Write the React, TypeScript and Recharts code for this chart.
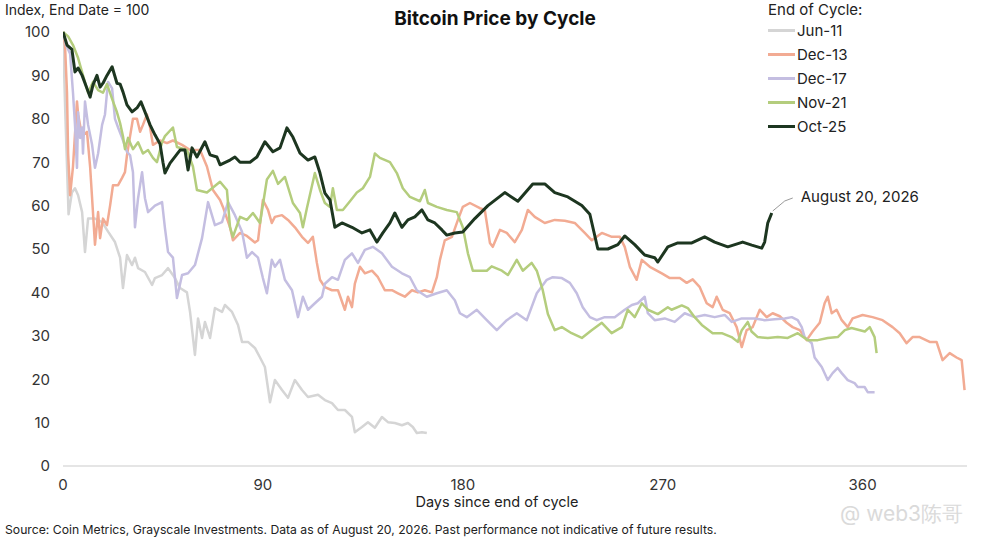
import { LineChart, Line, XAxis, YAxis, Legend, ReferenceDot } from 'recharts'

type Pt = [number, number]

// [days since end of cycle, index value]
const jun11: Pt[] = [
    [0, 100], [1, 82], [2.5, 58], [4, 63], [5.4, 64], [6.8, 62.4], [8.6, 58.5], [9.9, 49.3], [11.3, 57],
    [14.4, 57], [17.6, 56.2], [20.3, 54], [23.4, 51.6], [25.7, 48], [27, 41], [28.8, 48.6], [31.1, 46.3],
    [32.4, 48], [33.8, 45.6], [36.9, 44.7], [40.1, 41.7], [41.4, 43.3], [44.6, 44], [47.3, 45.6], [50.4, 43.3],
    [52.7, 41], [55.8, 40], [57.2, 35.5], [59.4, 25.6], [60.8, 34], [62.6, 29.5], [63.9, 33.2], [66.2, 29.5],
    [68.4, 36.4], [71.6, 35.5], [72.9, 37.1], [76.1, 35.5], [78.8, 32.5], [80.6, 28.6], [83.3, 28.6], [86.4, 27.2],
    [88.7, 25], [90.9, 22.8], [93.2, 14.7], [95.4, 19.8], [98.6, 17.5], [101.3, 15.7], [104.4, 19.8], [107.6, 17.5],
    [110.3, 15.9], [114.8, 16.4], [117.9, 15.2], [121.1, 14.5], [123.8, 12.9], [126.9, 12.9], [130.1, 11.3],
    [131.4, 7.8], [134.6, 9], [137.3, 10.1], [140.4, 8.8], [143.6, 11.3], [146.3, 10.1], [149.4, 9.9],
    [152.6, 9.4], [155.3, 9.9], [157.5, 9], [159.3, 7.6], [161.6, 7.8], [163.8, 7.6],
]

const dec13: Pt[] = [
    [0, 100], [0.9, 97], [1.8, 86], [2.3, 72], [3.2, 62.4], [4.5, 69], [6.3, 84], [6.8, 81], [8.6, 76],
    [10.8, 77], [12.2, 69], [13.1, 61.7], [14.4, 51], [15.8, 58.5], [16.7, 52.5], [18, 57], [19.8, 55.5],
    [21.2, 60], [22.5, 64.7], [24.8, 64.7], [26.6, 66.4], [27.9, 67.7], [28.8, 71.6], [30.2, 76], [31.5, 80],
    [33.3, 80], [34.7, 77], [36, 78.6], [37.8, 81], [39.2, 78], [40.5, 74], [43.7, 75], [46.8, 74.4],
    [49.5, 75], [53.6, 74], [57.2, 72.8], [61.7, 72.8], [64.8, 69], [67.5, 63.6], [70.7, 61.3], [72, 59.7],
    [75.2, 55], [76.5, 52], [79.7, 53.7], [82.8, 53], [86.4, 51.5], [87.8, 52], [90, 61.3], [92.3, 59],
    [94, 56], [95.4, 57.4], [98.6, 57.8], [101.3, 56.7], [104.4, 55], [107.6, 52.8], [110.3, 51.4],
    [112.5, 52.8], [114.3, 46.8], [115.7, 42.9], [117.9, 41.2], [121.1, 40.5], [123.8, 40.5], [126.9, 36],
    [128.3, 39], [130.1, 36.6], [131.4, 42], [133.7, 45.9], [135.9, 44.4], [139.1, 45], [141.8, 43.5],
    [144.9, 40.5], [148.1, 40.5], [150.8, 39.8], [153.9, 39], [157.1, 40.5], [159.8, 40], [162.9, 40.5],
    [166.1, 40], [168.3, 43.5], [169.7, 47.5], [171.9, 52], [175.1, 52.8], [177.8, 56.7], [180, 59.7],
    [183.2, 60.6], [187.7, 59.4], [189.9, 59], [192.2, 51.4], [193.5, 50.5], [196.7, 54.4], [199.8, 53.7],
    [203.4, 51.6], [206.6, 54.4], [209.3, 59], [212.4, 57.4], [216.9, 56], [221.4, 56.7], [225.9, 56.5],
    [230.4, 56], [234.9, 53.7], [238.1, 52], [242.6, 53.7], [247.1, 52.8], [250.7, 52.8], [252.9, 50.5],
    [255.2, 45.9], [258.3, 42.9], [260.6, 47.5], [264.2, 45.9], [269.6, 44.4], [273.2, 43.3], [277.7, 43.3],
    [280.8, 42.2], [283.5, 43], [286.7, 41.2], [289.8, 37.5], [292.5, 36.6], [294.3, 39], [297, 36],
    [300.2, 35.2], [303.3, 32], [305.6, 27.4], [307.8, 31.3], [310.5, 32], [313.7, 36], [316.8, 34.3],
    [319.5, 35.2], [322.7, 34.5], [325.8, 33], [328.5, 32], [331.7, 31.3], [334.8, 29], [337.5, 31],
    [340.7, 33], [342.9, 37.5], [344.3, 39], [346.1, 35.2], [348.3, 36], [350.6, 33.6], [353.3, 32],
    [355.5, 34], [360, 34.8], [364.5, 34.3], [369, 33.6], [373.5, 32], [376.7, 30.6], [379.8, 28.3],
    [382.5, 29.7], [385.7, 29.7], [390.2, 28.6], [393.3, 28.6], [396, 24.4], [399.2, 26], [402.3, 25],
    [404.6, 24.4], [405.9, 17.5],
]

const dec17: Pt[] = [
    [0, 100], [1.4, 97], [3.2, 95], [4.5, 86], [5.4, 78.6], [6.3, 68.7], [6.8, 81.5], [7.7, 75.6], [8.6, 78],
    [9, 72], [9.9, 84], [11.3, 78.6], [13.1, 74], [14.4, 68.7], [15.8, 72], [17.6, 78.6], [18.9, 81],
    [19.8, 86], [20.3, 88.5], [22.1, 87], [23.4, 80], [24.8, 78], [26.6, 75.6], [28.8, 72.4], [30.2, 71.6],
    [31.5, 67.7], [32.4, 55], [33.8, 61.7], [35.6, 67.7], [36.9, 61.7], [38.3, 58.5], [41.4, 60], [44.6, 60.8],
    [45.9, 54.8], [47.3, 49.3], [49.5, 48], [51.3, 38.7], [53.6, 44], [56.3, 44.4], [59.4, 46.3], [62.6, 52.5],
    [65.3, 60.8], [68.4, 55.5], [71.6, 56.2], [74.3, 60.8], [77.4, 57.8], [80.6, 54], [82.8, 48], [85.1, 49.3],
    [87.8, 48], [90, 43.3], [91.8, 39.8], [94, 47.5], [95.4, 45.9], [97.7, 47.5], [99.9, 42.9], [103.1, 40.5],
    [105.8, 34.3], [108, 39], [110.3, 36], [113.4, 37.5], [116.6, 39], [117.9, 42], [121.1, 43.5], [123.8, 42.9],
    [126.9, 47.5], [130.1, 49], [132.8, 46.8], [135.9, 49.8], [139.5, 50.5], [143.6, 49], [148.1, 45.9],
    [152.6, 44.4], [156.2, 43.5], [159.3, 40.5], [163.8, 39], [168.3, 39.8], [172.8, 40.5], [176.4, 38.2],
    [178.7, 35.2], [181.8, 34.3], [186.3, 36], [190.8, 33.6], [195.3, 31.3], [199.8, 33.6], [204.3, 35.2],
    [208.8, 33.6], [213.3, 39.8], [217.8, 42.9], [220.5, 43.5], [224.6, 43.3], [228.2, 42.2], [231.3, 39.8],
    [234, 36.6], [237.2, 34.3], [240.3, 33.6], [243.9, 34.3], [248.4, 34.3], [252.9, 36], [256.1, 37.1],
    [258.8, 37.5], [261.9, 39], [263.3, 35.2], [266.4, 33.6], [270.9, 34], [275.4, 33.2], [279.9, 35.2],
    [284.4, 34.3], [288.9, 34.8], [293.4, 34.3], [297.9, 34.8], [301.1, 33.2], [305.6, 34], [311.4, 34],
    [315.9, 33.6], [320.4, 33.8], [324.9, 34], [328.1, 34.3], [330.8, 33.6], [332.6, 32], [333.9, 29.7],
    [337.1, 28.3], [338.4, 25], [341.6, 22.8], [344.3, 19.8], [346.5, 21.4], [348.8, 22.6], [350.6, 21.4],
    [353.3, 19.8], [356.4, 19.1], [357.8, 18.2], [360.9, 18.2], [362.3, 17], [365.4, 17],
]

const nov21: Pt[] = [
    [0, 100], [2.3, 99], [4.5, 97], [6.8, 94], [9, 90], [11.3, 86], [13.5, 88.5], [15.8, 86.6], [18, 86],
    [19.8, 88], [22.5, 84], [24.3, 81.5], [25.7, 79], [27, 76], [27.9, 73], [29.3, 75.6], [31.5, 73],
    [33.8, 74.6], [36, 72], [38.3, 72.8], [40.5, 71], [42.3, 70], [44.6, 74.6], [45.9, 76], [49.5, 78],
    [51.3, 73.5], [55.8, 72.8], [58.5, 69], [60.3, 63.6], [64.8, 63], [70.7, 65.5], [73.8, 63.6], [75.2, 55],
    [76.5, 52.8], [79.7, 57.4], [82.8, 56.7], [85.5, 58.3], [88.7, 56], [91.8, 66], [94.5, 68], [96.8, 65],
    [99.9, 66.6], [103.5, 60.6], [106.7, 58.3], [108, 55], [109.8, 59.4], [113.4, 67.5], [115.7, 63.6],
    [117.9, 60.6], [120.2, 59.7], [121.5, 64], [123.3, 59], [126, 59], [129.2, 61], [132.3, 63], [135, 64],
    [138.2, 66.6], [140.4, 72], [142.7, 71], [147.2, 70], [150.3, 67.5], [153, 64], [156.2, 62], [160.7, 61],
    [162.9, 63.6], [164.3, 60.6], [168.3, 59.7], [172.8, 59], [177.3, 58.5], [180, 55], [182.3, 49],
    [184.5, 45], [190.8, 45], [193, 46], [197.6, 45], [200.3, 44], [204.3, 47.5], [207, 45], [211, 46.8],
    [213.3, 45], [216, 40.5], [218.3, 35], [221.4, 31.3], [224.6, 32], [229, 30.6], [233.6, 29.5], [238, 31.3],
    [242.6, 33], [247, 30.6], [251.6, 32], [254.3, 36], [257.4, 34.3], [260.6, 37.5], [263.3, 36], [267.8, 35],
    [272.3, 36.6], [274, 36], [278.6, 37], [281.3, 36.4], [284.4, 34.3], [287.6, 32.5], [292.5, 30.6],
    [296.6, 30.6], [301, 29.7], [303.8, 28.6], [305.6, 31.3], [308.3, 33.2], [310, 31], [312.8, 29.7],
    [317.3, 29.5], [321.8, 29.7], [326.3, 29.5], [330.8, 30.6], [335.3, 29], [339.8, 29], [344.3, 29.5],
    [348.8, 29.7], [352, 31.3], [355, 31.8], [361, 31], [363.2, 32], [365.4, 29.7], [366.3, 26],
]

const oct25: Pt[] = [
    [0, 100], [1.8, 97], [4, 96], [5.4, 90.8], [6.8, 91.7], [8.6, 90], [10.8, 87], [12.2, 85], [13.5, 87.8],
    [15.3, 90], [16.7, 87.3], [18, 88.2], [19.8, 90], [22.1, 92], [24.3, 88.2], [25.7, 88], [27, 86.2],
    [28.8, 83.2], [31.1, 81.6], [33.3, 82.5], [35.1, 83.9], [36.9, 81.6], [39.2, 78.6], [41.4, 76.3],
    [43.7, 74.2], [45, 70], [45.9, 67.5], [48.2, 69.8], [52.7, 72.8], [54.9, 72.8], [56.3, 68.2], [58.1, 73.3],
    [60.3, 71.2], [63.9, 74.7], [66.2, 71.7], [69.3, 71.2], [70.7, 69.4], [75.2, 70.5], [77.4, 71.2],
    [79.7, 70], [84.2, 70], [87.3, 71.2], [90.9, 74.7], [94.5, 72.4], [97.7, 73.3], [100.8, 77.9], [103.5, 75.8],
    [106.7, 72.1], [110.3, 70.5], [113.4, 71.2], [115.7, 67.5], [117.9, 62.9], [120.2, 61.3], [122.4, 55],
    [125.6, 56], [130.1, 55], [134.6, 53.7], [138.2, 54.4], [141.3, 51.6], [144, 53.7], [147.2, 56],
    [149.4, 58.3], [152.6, 55], [155.3, 56.7], [158.4, 57.4], [161.6, 59], [164.3, 56.7], [167.4, 56],
    [170.6, 54.4], [172.8, 53.2], [176.4, 53.7], [180, 53.9], [185.4, 57], [191.3, 60], [198.9, 63],
    [204.8, 61], [211.5, 65], [216.9, 65], [221.4, 63], [227.3, 62], [233.6, 60], [237.2, 58], [240.8, 50],
    [245.3, 50], [249.8, 51], [252.9, 53], [257.4, 51], [261.9, 48.6], [266.4, 48], [267.8, 47], [272.3, 50.5],
    [276.8, 51.4], [283.1, 51.4], [288.9, 52.8], [293.4, 51.6], [299.3, 50.5], [306, 51.6], [310.1, 50.9],
    [314.6, 50.2], [315.9, 51.6], [317.3, 56], [319.1, 58.3],
]

const DAY_TICKS = [0, 90, 180, 270, 360]
const INDEX_TICKS = [0, 10, 20, 30, 40, 50, 60, 70, 80, 90, 100]
const LAST_LABEL = 'August 20, 2026'

const SERIES = [
    { name: 'Jun-11', points: jun11, color: '#d5d5d5', width: 2.5 },
    { name: 'Dec-13', points: dec13, color: '#f2ab93', width: 2.5 },
    { name: 'Dec-17', points: dec17, color: '#c4bee1', width: 2.5 },
    { name: 'Nov-21', points: nov21, color: '#b4cd7d', width: 2.5 },
    { name: 'Oct-25', points: oct25, color: '#1d3620', width: 3 },
]

const FONT = 'Inter, "Noto Sans", sans-serif'
const lastOct = oct25[oct25.length - 1]

function LegendBox() {
    return (
        <div style={{ fontFamily: FONT, color: '#222', fontSize: 15 }}>
            <div style={{ height: 17, lineHeight: '17px' }}>End of Cycle:</div>
            {SERIES.map(s => (
                <div key={s.name} style={{ display: 'flex', alignItems: 'center', height: 24 }}>
                    <span style={{ width: 27, height: 3, background: s.color, display: 'inline-block' }} />
                    <span style={{ marginLeft: 2 }}>{s.name}</span>
                </div>
            ))}
        </div>
    )
}

export default function App() {
    return (
        <div style={{ position: 'absolute', left: 0, top: 0, width: 987, height: 538, background: '#fff', overflow: 'hidden' }}>
            <LineChart width={987} height={538} margin={{ top: 32, right: 20, bottom: 42, left: 23 }}>
                <XAxis
                    dataKey="day"
                    type="number"
                    domain={[0, 407]}
                    ticks={DAY_TICKS}
                    allowDataOverflow
                    height={30}
                    tickLine={false}
                    tickMargin={7}
                    axisLine={{ stroke: '#dcdcdc', strokeWidth: 1.5 }}
                    tick={{ fill: '#333', fontSize: 15, fontFamily: FONT }}
                />
                <YAxis
                    type="number"
                    domain={[0, 100]}
                    ticks={INDEX_TICKS}
                    width={40}
                    axisLine={false}
                    tickLine={false}
                    tickMargin={7}
                    tick={{ fill: '#333', fontSize: 15, fontFamily: FONT }}
                />
                {/* vertical + centered + middle: the legend takes no room from the plot */}
                <Legend
                    layout="vertical"
                    verticalAlign="middle"
                    align="center"
                    content={() => <LegendBox />}
                    wrapperStyle={{ left: 768, top: 1, width: 200 }}
                />
                {SERIES.map(s => (
                    <Line
                        key={s.name}
                        name={s.name}
                        data={s.points.map(([day, value]) => ({ day, value }))}
                        dataKey="value"
                        type="linear"
                        stroke={s.color}
                        strokeWidth={s.width}
                        strokeLinejoin="round"
                        dot={false}
                        activeDot={false}
                        isAnimationActive={false}
                    />
                ))}
                <ReferenceDot
                    x={lastOct[0]}
                    y={lastOct[1]}
                    r={0}
                    shape={(p: any) => (
                        <g>
                            <polyline
                                points={`${p.cx + 1},${p.cy - 2} ${p.cx + 13},${p.cy - 12} ${p.cx + 21},${p.cy - 15}`}
                                fill="none"
                                stroke="#9a9a9a"
                                strokeWidth={1}
                            />
                            <text x={p.cx + 29} y={p.cy - 15} dominantBaseline="middle" fontSize={15} fontFamily={FONT} fill="#222">
                                {LAST_LABEL}
                            </text>
                        </g>
                    )}
                />
            </LineChart>
            <div style={{ position: 'absolute', left: 5, top: 1, fontSize: 14, fontFamily: FONT, color: '#222' }}>
                Index, End Date = 100
            </div>
            <div style={{ position: 'absolute', left: 345, top: 7, width: 300, textAlign: 'center', fontSize: 19, fontWeight: 700, fontFamily: FONT, color: '#111' }}>
                Bitcoin Price by Cycle
            </div>
            <div style={{ position: 'absolute', left: 397, top: 493, width: 200, textAlign: 'center', fontSize: 14.5, fontFamily: FONT, color: '#222' }}>
                Days since end of cycle
            </div>
            <div style={{ position: 'absolute', left: 5, top: 522, fontSize: 12.2, fontFamily: FONT, color: '#222', whiteSpace: 'nowrap' }}>
                Source: Coin Metrics, Grayscale Investments. Data as of August 20, 2026. Past performance not indicative of future results.
            </div>
            <div style={{ position: 'absolute', left: 840, top: 500, fontSize: 21, fontFamily: FONT, color: '#dadada', whiteSpace: 'nowrap' }}>
                @ web3陈哥
            </div>
        </div>
    )
}
